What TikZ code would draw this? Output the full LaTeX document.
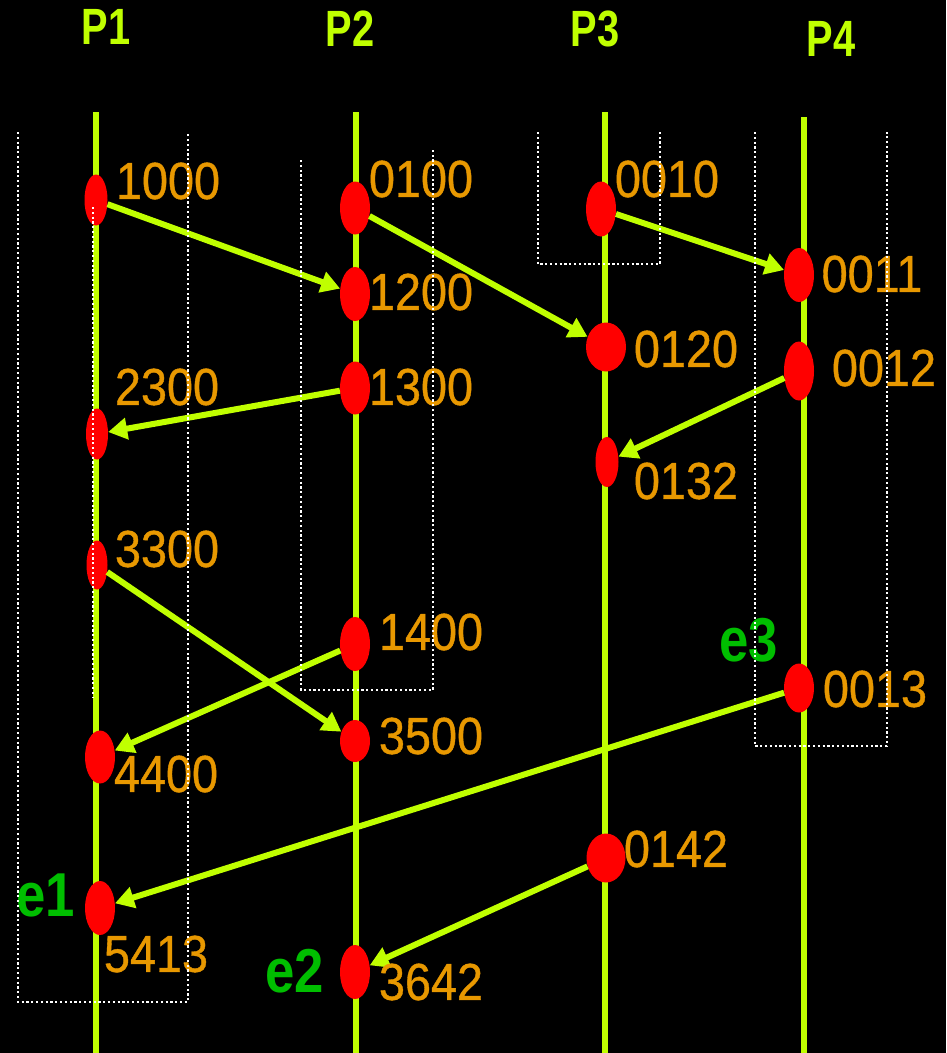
\documentclass[tikz,border=0pt]{standalone}
\usepackage{fontspec}
\setmainfont{Liberation Sans}
\newfontfamily\stampfont[FakeStretch=0.9, FakeBold=0.7]{Liberation Sans}
\newfontfamily\procfont[FakeStretch=0.78]{Liberation Sans}
\newfontfamily\cutfont[FakeStretch=0.85]{Liberation Sans}
\usetikzlibrary{arrows.meta,shapes.geometric}

\definecolor{lineyg}{RGB}{192,255,0}
\definecolor{stamporange}{RGB}{232,152,0}
\definecolor{cutgreen}{RGB}{0,190,0}

\tikzset{
  evt/.style={ellipse, fill=red, inner sep=0pt, minimum width=30pt, minimum height=54pt},
  stamp/.style={text=stamporange, inner sep=0pt, font=\stampfont\fontsize{52}{52}\selectfont},
  proclabel/.style={text=lineyg, inner sep=0pt, font=\procfont\bfseries\fontsize{51}{51}\selectfont},
  cutlabel/.style={text=cutgreen, inner sep=0pt, font=\cutfont\bfseries\fontsize{62}{62}\selectfont},
  procline/.style={draw=lineyg, line width=6.5pt},
  msg/.style={draw=lineyg, line width=6pt, -{Triangle[length=19pt,width=21pt]}},
  cutline/.style={draw=white, line width=2.2pt, dash pattern=on 2.2pt off 2.6pt}
}

\begin{document}
\begin{tikzpicture}[x=1pt, y=-1pt]
	\fill[black] (0,0) rectangle (946,1053);
	\useasboundingbox (0,0) rectangle (946,1053);

	% processes
	\node[proclabel] (p1) at (106,27) {P1};
	\node[proclabel] (p2) at (350,29) {P2};
	\node[proclabel] (p3) at (595,29) {P3};
	\node[proclabel] (p4) at (831,39) {P4};
	\coordinate (p1top) at (96,112);  \coordinate (p1bot) at (96,1053);
	\coordinate (p2top) at (356,112); \coordinate (p2bot) at (356,1053);
	\coordinate (p3top) at (605,112); \coordinate (p3bot) at (605,1053);
	\coordinate (p4top) at (804,117); \coordinate (p4bot) at (804,1053);
	\draw[procline] (p1top) -- (p1bot);
	\draw[procline] (p2top) -- (p2bot);
	\draw[procline] (p3top) -- (p3bot);
	\draw[procline] (p4top) -- (p4bot);

	% events
	\node[evt, minimum width=23pt, minimum height=51pt] (ev1000) at (96,200) {};
	\node[evt, minimum width=22pt, minimum height=51pt] (ev2300) at (97,434) {};
	\node[evt, minimum width=21pt, minimum height=49pt] (ev3300) at (97,565) {};
	\node[evt, minimum height=53pt] (ev4400) at (100,757) {};
	\node[evt] (ev5413) at (100,908) {};
	\node[evt, minimum height=53pt] (ev0100) at (355,208) {};
	\node[evt] (ev1200) at (355,294) {};
	\node[evt, minimum height=53pt] (ev1300) at (355,388) {};
	\node[evt] (ev1400) at (355,644) {};
	\node[evt, minimum height=42pt] (ev3500) at (355,741) {};
	\node[evt] (ev3642) at (355,972) {};
	\node[evt, minimum height=55pt] (ev0010) at (601,209) {};
	\node[evt, minimum width=40pt, minimum height=49pt] (ev0120) at (606,347) {};
	\node[evt, minimum width=23pt, minimum height=50pt] (ev0132) at (607,462) {};
	\node[evt, minimum width=39pt, minimum height=49pt] (ev0142) at (606,858) {};
	\node[evt] (ev0011) at (799,275) {};
	\node[evt, minimum height=59pt] (ev0012) at (799,371) {};
	\node[evt, minimum height=49pt] (ev0013) at (799,688) {};

	% messages
	\draw[msg] (ev1000) -- (ev1200);
	\draw[msg] (ev0100) -- (ev0120);
	\draw[msg] (ev0010) -- (ev0011);
	\draw[msg] (ev1300) -- (ev2300);
	\draw[msg] (ev0012) -- (ev0132);
	\draw[msg] (ev3300) -- (ev3500);
	\draw[msg] (ev1400) -- (ev4400);
	\draw[msg] (ev0013) -- (ev5413);
	\draw[msg] (ev0142) -- (ev3642);

	% vector timestamps
	\node[stamp] (t1000) at (168,181) {1000};
	\node[stamp] (t2300) at (167,387) {2300};
	\node[stamp] (t3300) at (167,549) {3300};
	\node[stamp] (t4400) at (166,774) {4400};
	\node[stamp] (t5413) at (156,954) {5413};
	\node[stamp] (t0100) at (421,179) {0100};
	\node[stamp] (t1200) at (421,292) {1200};
	\node[stamp] (t1300) at (421,387) {1300};
	\node[stamp] (t1400) at (431,632) {1400};
	\node[stamp] (t3500) at (431,736) {3500};
	\node[stamp] (t3642) at (431,982) {3642};
	\node[stamp] (t0010) at (667,179) {0010};
	\node[stamp] (t0120) at (686,349) {0120};
	\node[stamp] (t0132) at (686,481) {0132};
	\node[stamp] (t0142) at (676,849) {0142};
	\node[stamp] (t0011) at (872,274) {0011};
	\node[stamp] (t0012) at (884,368) {0012};
	\node[stamp] (t0013) at (875,689) {0013};

	\node[cutlabel] (e1) at (46,895) {e1};
	\node[cutlabel] (e2) at (295,971) {e2};
	\node[cutlabel] (e3) at (749,640) {e3};

	% cuts
	\draw[cutline] (18,132) -- (18,1002) -- (188,1002) -- (188,132);
	\draw[cutline] (93,207) -- (93,698);
	\draw[cutline] (301,160) -- (301,690) -- (433,690) -- (433,150);
	\draw[cutline] (538,132) -- (538,264) -- (660,264) -- (660,132);
	\draw[cutline] (755,132) -- (755,746) -- (887,746) -- (887,132);
\end{tikzpicture}
\end{document}
